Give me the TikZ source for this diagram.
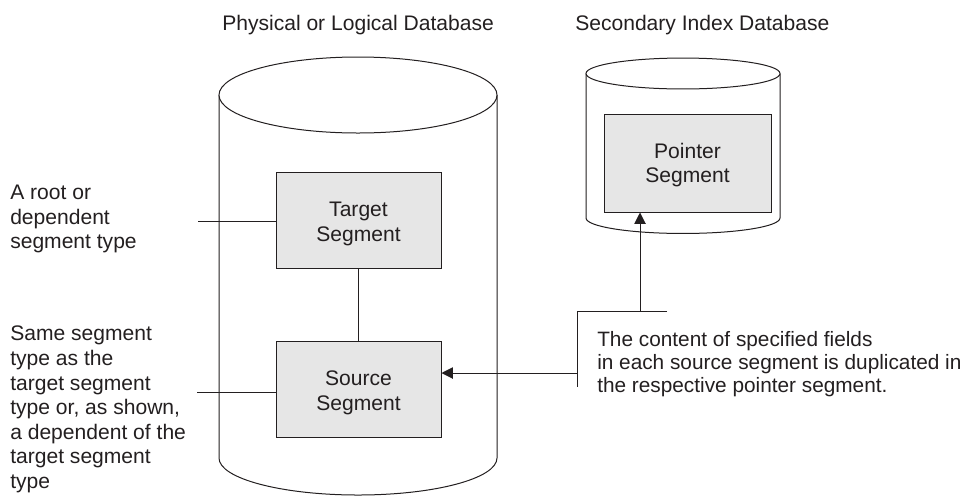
\documentclass[tikz,border=0pt]{standalone}
\usepackage{fontspec}
\setmainfont{Liberation Sans}
\usetikzlibrary{
    arrows.meta,
    positioning
}
\definecolor{ink}{RGB}{35,31,32}
\definecolor{segfill}{RGB}{230,230,230}
\newcommand{\segfont}{\fontsize{15.8}{18.4}\selectfont}
\tikzset{
    line cap=round,
    line join=round,
    dbshape/.style={
        draw=ink,
        fill=white,
        line width=0.75pt
    },
    segment/.style={
        rectangle,
        draw=ink,
        line width=0.75pt,
        fill=segfill,
        text=ink,
        align=center,
        inner sep=0pt,
        font=\segfont
    },
    segtext/.style={
        align=center,
        inner sep=0pt,
        text=ink,
        font=\segfont
    },
    note/.style={
        anchor=north west,
        align=left,
        inner sep=0pt,
        text=ink,
        font=\segfont
    },
    dbtitle/.style={
        note
    },
    link/.style={
        -,
        draw=ink,
        line width=0.75pt
    },
    pointer/.style={
        link,
        -{Triangle[length=8.5pt, width=8.5pt]}
    }
}

\begin{document}
\begin{tikzpicture}[x=0.75pt, y=-0.75pt]
\useasboundingbox (0,0) rectangle (970,497);

% Left: physical or logical database
\node[dbtitle] (physttl) at (222,15) {Physical or Logical Database};
\draw[dbshape] (219,95) -- (219,458)
    arc[start angle=180, end angle=360, x radius=104.25pt, y radius=27.75pt]
    -- (497,95);
\draw[dbshape] (358,95) ellipse [x radius=104.25pt, y radius=28.5pt];

\node[segment, minimum width=123.75pt, minimum height=72pt] (target) at (358.5,220) {};
\node[segment, minimum width=123.75pt, minimum height=72pt] (source) at (358.5,389) {};
\node[segtext] (targettxt) at (358.5,224) {Target\\Segment};
\node[segtext] (sourcetxt) at (358.5,393) {Source\\Segment};
\draw[link] (target) -- (source);

% Left notes
\node[note] (rootnote) at (10,185) {A root or\\dependent\\segment type};
\node[note] (samenote) at (10,326) {Same segment\\type as the\\target segment\\type or, as shown,\\a dependent of the\\target segment\\type};
\coordinate (rootend) at (198,221);
\coordinate (sameend) at (197,392);
\draw[link] (rootend) -- (rootend -| target.west);
\draw[link] (sameend) -- (sameend -| source.west);

% Right: secondary index database
\node[dbtitle] (secttl) at (575,15) {Secondary Index Database};
\draw[dbshape] (586,73.5) -- (586,218)
    arc[start angle=180, end angle=360, x radius=72.75pt, y radius=11.6pt]
    -- (780,73.5);
\draw[dbshape] (683,73.5) ellipse [x radius=72.75pt, y radius=11.6pt];
\node[segment, minimum width=125.25pt, minimum height=73.5pt] (pointer) at (687.5,163) {};
\node[segtext] (pointertxt) at (687.5,165) {Pointer\\Segment};

% Bracket with the duplicated fields
\node[note, font=\fontsize{15.6}{17.3}\selectfont] (dupnote) at (597,331) {The content of specified fields\\in each source segment is duplicated in\\the respective pointer segment.};
\coordinate (brtop) at (577,311);
\coordinate (brbot) at (577,387);
\coordinate (brright) at (667,311);
\coordinate (brup) at (640,311);
\coordinate (brmid) at (577,373);
\draw[link] (brright) -- (brtop) -- (brbot);
\draw[pointer] (brup) -- (brup |- pointer.south);
\draw[pointer] (brmid) -- (brmid -| source.east);

\end{tikzpicture}
\end{document}
